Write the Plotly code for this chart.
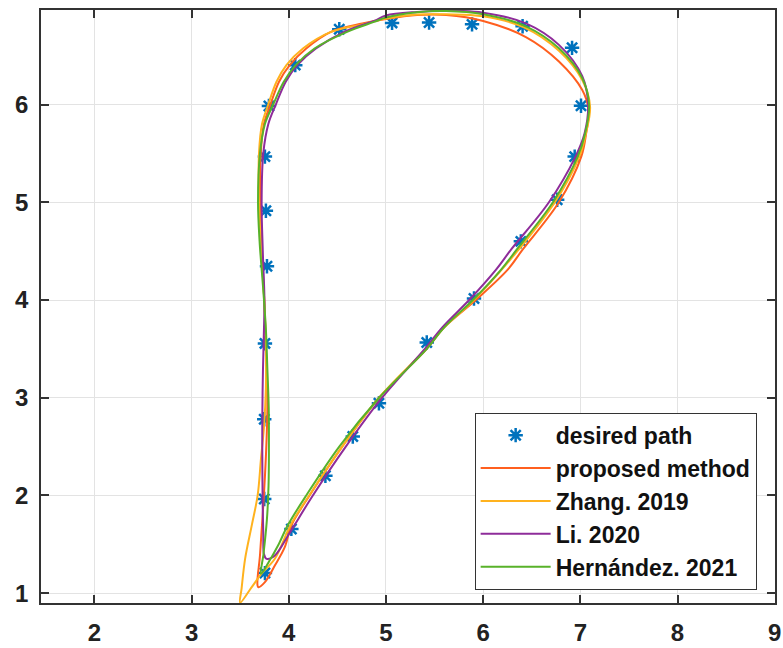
import plotly.graph_objects as go

# desired path (asterisk markers)
desired_x = [3.755, 3.748, 3.748, 3.755, 3.776, 3.765, 3.755, 3.796, 4.067, 4.52, 5.063, 5.444, 5.886,
             6.406, 6.915, 7.007, 6.942, 6.762, 6.388, 5.906, 5.42, 4.928, 4.659, 4.377, 4.027]
desired_y = [1.206, 1.964, 2.78, 3.556, 4.345, 4.913, 5.467, 5.985, 6.403, 6.77, 6.835, 6.839, 6.82,
             6.80, 6.58, 5.988, 5.467, 5.026, 4.60, 4.015, 3.566, 2.944, 2.604, 2.202, 1.658]

# proposed method
prop_x = [3.687, 3.705, 3.735, 3.765, 3.780, 3.765, 3.748, 3.722, 3.705, 3.712, 3.745, 3.812, 3.90,
          4.01, 4.18, 4.434, 4.757, 5.00, 5.32, 5.62, 6.00, 6.44, 6.78, 7.02, 7.085, 7.06, 7.01,
          6.779, 6.406, 6.253, 5.93, 5.60, 5.42, 4.93, 4.55, 4.214, 4.03, 3.959, 3.857, 3.755, 3.687]
prop_y = [1.063, 1.40, 1.85, 2.40, 2.90, 3.50, 4.00, 4.50, 5.00, 5.50, 5.80, 6.00, 6.233,
          6.403, 6.573, 6.743, 6.829, 6.875, 6.915, 6.915, 6.855, 6.69, 6.44, 6.148, 5.944, 5.706, 5.467,
          5.00, 4.515, 4.311, 4.005, 3.72, 3.50, 3.00, 2.50, 2.00, 1.70, 1.471, 1.284, 1.114, 1.063]

# Zhang. 2019
zhang_x = [3.50, 3.515, 3.551, 3.619, 3.68, 3.714, 3.745, 3.765, 3.765, 3.748, 3.718, 3.694, 3.694,
           3.725, 3.789, 3.874, 3.976, 4.146, 4.434, 4.757, 5.00, 5.32, 5.62, 6.00, 6.42, 6.78,
           7.02, 7.10, 7.058, 6.99, 6.738, 6.365, 5.91, 5.60, 5.41, 4.928, 4.55, 4.21, 4.02,
           3.857, 3.72, 3.619, 3.50]
zhang_y = [0.903, 1.05, 1.352, 1.692, 2.00, 2.372, 2.70, 3.10, 3.50, 4.00, 4.50, 5.00, 5.50,
           5.80, 6.00, 6.233, 6.403, 6.573, 6.743, 6.82, 6.88, 6.92, 6.923, 6.903, 6.79, 6.55,
           6.25, 5.98, 5.706, 5.467, 5.00, 4.515, 4.005, 3.72, 3.50, 3.00, 2.50, 2.00, 1.70,
           1.352, 1.20, 1.063, 0.903]

# Li. 2020
li_x = [3.772, 3.745, 3.738, 3.731, 3.728, 3.728, 3.735, 3.745, 3.750, 3.733, 3.721, 3.738, 3.79,
        3.867, 3.969, 4.088, 4.28, 4.57, 4.877, 5.00, 5.32, 5.62, 6.00, 6.44, 6.78, 7.02, 7.08,
        7.044, 6.95, 6.677, 6.287, 6.133, 5.861, 5.58, 5.40, 4.96, 4.587, 4.248, 4.061, 3.993, 3.857, 3.772]
li_y = [1.352, 1.40, 1.60, 1.964, 2.40, 2.80, 3.30, 3.70, 4.00, 4.50, 5.00, 5.50, 5.80,
        6.00, 6.233, 6.403, 6.573, 6.743, 6.855, 6.91, 6.947, 6.96, 6.94, 6.83, 6.61, 6.29, 6.00,
        5.706, 5.467, 5.00, 4.515, 4.311, 4.005, 3.72, 3.50, 3.00, 2.50, 2.00, 1.70, 1.59, 1.386, 1.352]

# Hernández. 2021
hern_x = [3.714, 3.740, 3.775, 3.792, 3.796, 3.794, 3.78, 3.765, 3.738, 3.70, 3.684, 3.704, 3.755,
          3.84, 3.949, 4.071, 4.265, 4.60, 4.877, 5.00, 5.32, 5.62, 6.00, 6.44, 6.78, 7.02,
          7.09, 7.05, 6.973, 6.718, 6.345, 6.185, 5.90, 5.60, 5.42, 4.93, 4.52, 4.18, 3.993, 3.89, 3.80, 3.714]
hern_y = [1.199, 1.40, 1.75, 2.10, 2.50, 2.90, 3.30, 3.70, 4.10, 4.60, 5.00, 5.50, 5.80,
          6.00, 6.233, 6.403, 6.573, 6.743, 6.845, 6.89, 6.945, 6.957, 6.924, 6.80, 6.575, 6.27,
          6.00, 5.706, 5.467, 5.00, 4.515, 4.311, 4.005, 3.72, 3.50, 3.00, 2.50, 2.00, 1.70, 1.488, 1.33, 1.199]

x_ticks = [2, 3, 4, 5, 6, 7, 8, 9]
y_ticks = [1, 2, 3, 4, 5, 6]

FONT = "Liberation Sans, Arial, sans-serif"


def bold(s):
    return "<b>" + s + "</b>"


fig = go.Figure()
fig.add_trace(go.Scatter(x=desired_x, y=desired_y, mode="markers", name=bold("desired path"),
                         marker=dict(symbol="asterisk-open", size=12, color="#0072BD",
                                     line=dict(color="#0072BD", width=2.5))))
lines = [
    ("proposed method", prop_x, prop_y, "#FF5F1F"),
    ("Zhang. 2019", zhang_x, zhang_y, "#FFB21E"),
    ("Li. 2020", li_x, li_y, "#8E2C9A"),
    ("Hernández. 2021", hern_x, hern_y, "#58B22A"),
]
for name, xs, ys, col in lines:
    fig.add_trace(go.Scatter(x=xs, y=ys, mode="lines", name=bold(name),
                             line=dict(color=col, width=2, shape="spline", smoothing=1.0)))

axis_common = dict(
    showgrid=True, gridcolor="#E3E3E3", gridwidth=1,
    showline=True, linecolor="#333333", linewidth=1.5, mirror="ticks",
    ticks="inside", ticklen=8, tickwidth=1.5, tickcolor="#333333",
    tickfont=dict(family=FONT, size=24, color="#222222"),
    zeroline=False, ticklabeloverflow="allow",
)
fig.update_layout(
    width=783, height=648,
    margin=dict(l=41, r=2, t=10, b=44),
    paper_bgcolor="white", plot_bgcolor="white",
    xaxis=dict(range=[1.451, 9.003], tickvals=x_ticks, ticktext=[bold(str(v)) for v in x_ticks],
               ticklabelstandoff=7, **axis_common),
    yaxis=dict(range=[0.9, 6.967], tickvals=y_ticks, ticktext=[bold(str(v)) for v in y_ticks],
               ticklabelstandoff=6, **axis_common),
    legend=dict(x=0.975, y=0.0224, xanchor="right", yanchor="bottom",
                bgcolor="white", bordercolor="#333333", borderwidth=1,
                font=dict(family=FONT, size=23, color="#111111"),
                itemwidth=70, tracegroupgap=0),
    showlegend=True,
)
fig.write_html("out.html")
